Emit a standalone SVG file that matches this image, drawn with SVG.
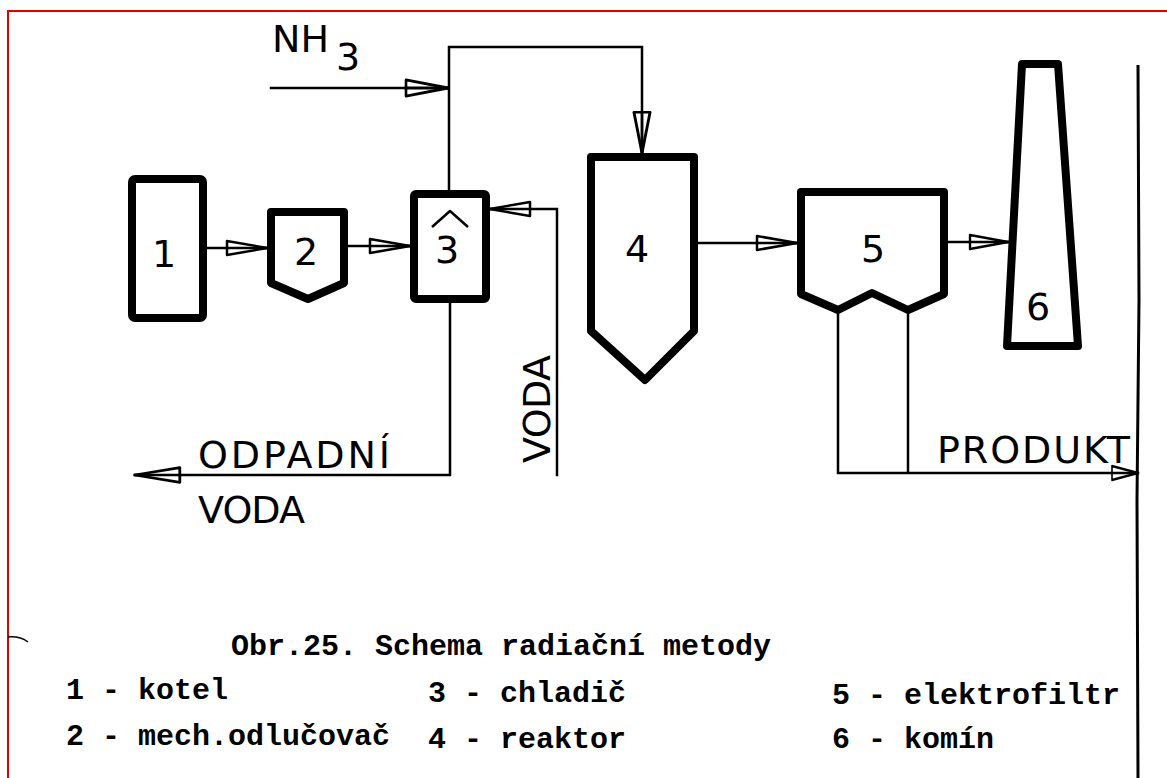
<svg xmlns="http://www.w3.org/2000/svg" width="1167" height="778" viewBox="0 0 1167 778">
<style>
.node{fill:#fff;stroke:#000;stroke-width:8;stroke-linejoin:round}
.ln{fill:none;stroke:#000;stroke-width:2.5;stroke-linecap:square}
.ah{fill:#fff;stroke:#000;stroke-width:2.5;stroke-linejoin:round}
.lbl{font-family:"DejaVu Sans","Liberation Sans",sans-serif;font-size:38px;fill:#000}
.num{font-family:"DejaVu Sans","Liberation Sans",sans-serif;font-size:38px;fill:#000;text-anchor:middle}
.leg{font-family:"Liberation Mono","DejaVu Sans Mono",monospace;font-weight:bold;font-size:30px;fill:#000}
</style>
<defs>
<g id="arrow">
<path class="ah" d="M-40,-7 L0,0 L-40,7 Z"/>
<path class="ln" d="M-40,0 L0,0"/>
</g>
</defs>
<rect x="8" y="11" width="1175" height="790" fill="#fff" stroke="#e00000" stroke-width="2"/>
<path d="M8,637 Q20,636 28,642" fill="none" stroke="#000" stroke-width="1.5"/>
<g id="connectors">
<path class="ln" d="M207,248 H267"/>
<use href="#arrow" transform="translate(267,248)"/>
<path class="ln" d="M348,246 H410"/>
<use href="#arrow" transform="translate(410,246)"/>
<path class="ln" d="M271,88 H448"/>
<use href="#arrow" transform="translate(448,88) scale(1.05,1.15)"/>
<path class="ln" d="M449,190 V47 H642 V153"/>
<use href="#arrow" transform="translate(642,153) rotate(90) scale(1.02,1.15)"/>
<path class="ln" d="M698,243 H797"/>
<use href="#arrow" transform="translate(797,243)"/>
<path class="ln" d="M948,242 H1008"/>
<use href="#arrow" transform="translate(1008,242) scale(0.95,1)"/>
<path class="ln" d="M450,303 V475 H135"/>
<use href="#arrow" transform="translate(135,475) rotate(180) scale(1.12,1.05)"/>
<path class="ln" d="M557,475 V209 H490"/>
<use href="#arrow" transform="translate(490,209) rotate(180)"/>
<path class="ln" d="M838,311 V473 M908,311 V473 M838,473 H1138"/>
<use href="#arrow" transform="translate(1138,473) scale(0.65,1)"/>
<path d="M1138,65 L1139,300 L1137,500 L1138,778" fill="none" stroke="#000" stroke-width="3"/>
</g>
<g id="node1">
<rect class="node" x="132" y="179" width="71" height="139" rx="3"/>
<text class="num" x="164" y="267">1</text>
</g>
<g id="node2">
<path class="node" d="M271,212 H344 V283 L308,299 L271,283 Z"/>
<text class="num" x="306" y="265">2</text>
</g>
<g id="node3">
<rect class="node" x="414" y="194" width="72" height="105" rx="2"/>
<polyline points="432,227 450,211 468,227" fill="none" stroke="#000" stroke-width="2.5" stroke-linejoin="round"/>
<text class="num" x="447" y="263">3</text>
</g>
<g id="node4">
<path class="node" d="M591,157 H694 V331 L645,380 L591,331 Z"/>
<text class="num" x="637" y="262">4</text>
</g>
<g id="node5">
<path class="node" d="M801,192 H944 V294 L908,310 L872,293 L838,310 L801,294 Z"/>
<text class="num" x="873" y="262">5</text>
</g>
<g id="node6">
<path class="node" d="M1022,64 H1058 L1078,346 H1007 Z"/>
<text class="num" x="1038" y="320">6</text>
</g>
<g id="labels">
<text class="lbl" x="272" y="52" font-size="37">NH</text>
<text class="lbl" x="336" y="70" font-size="37">3</text>
<text class="lbl" x="198" y="468" textLength="192" lengthAdjust="spacing">ODPADNÍ</text>
<text class="lbl" x="198" y="523" textLength="107" lengthAdjust="spacing">VODA</text>
<text class="lbl" transform="translate(550,463) rotate(-90)" textLength="108" lengthAdjust="spacing">VODA</text>
<text class="lbl" x="937" y="463" font-size="41" textLength="193" lengthAdjust="spacing">PRODUKT</text>
</g>
<g id="legend">
<text class="leg" x="231" y="655">Obr.25. Schema radiační metody</text>
<text class="leg" x="66" y="699">1 - kotel</text>
<text class="leg" x="428" y="702">3 - chladič</text>
<text class="leg" x="832" y="704">5 - elektrofiltr</text>
<text class="leg" x="66" y="745">2 - mech.odlučovač</text>
<text class="leg" x="428" y="748">4 - reaktor</text>
<text class="leg" x="832" y="748">6 - komín</text>
</g>
</svg>
